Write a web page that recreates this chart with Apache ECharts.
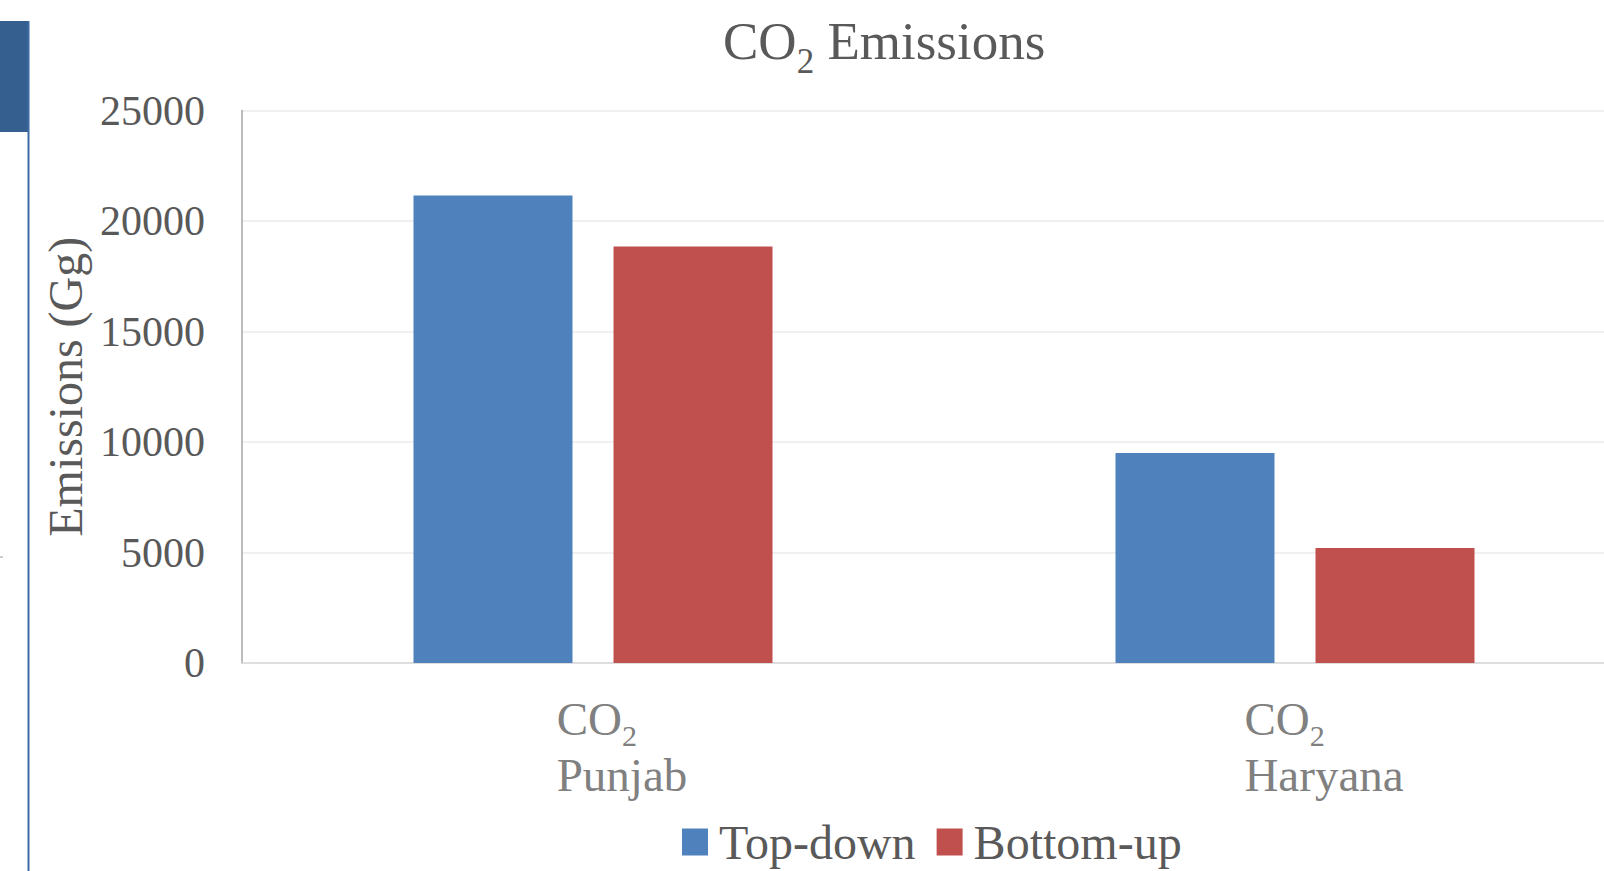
<!DOCTYPE html>
<html>
<head>
<meta charset="utf-8">
<script src="https://cdn.jsdelivr.net/npm/echarts@6/dist/echarts.min.js"></script>
<style>
  html, body { margin: 0; padding: 0; background: #fff; }
  #chart { width: 1604px; height: 871px; }
</style>
</head>
<body>
<div id="chart"></div>
<script>
var gas = 'CO';
var regions = ['Punjab', 'Haryana'];
var seriesNames = ['Top-down', 'Bottom-up'];
var topDown = [21150, 9500];
var bottomUp = [18850, 5200];
var yTicks = [0, 5000, 10000, 15000, 20000, 25000];

(function() {
  var ink = '#595959';
  var soft = '#808080';
  var blue = '#4F81BD';
  var red = '#C0504D';
  var font = '"Liberation Serif", "DejaVu Serif", serif';

  var chart = echarts.init(document.getElementById('chart'), null, { renderer: 'svg' });

  chart.setOption({
    animation: false,
    title: {
      text: '{a|' + gas + '}{s|2}{a| Emissions}',
      left: 723,
      top: 12,
      padding: 0,
      textStyle: {
        fontWeight: 'normal',
        rich: {
          a: { fontFamily: font, fontSize: 53, fontWeight: 'normal', color: ink, lineHeight: 58 },
          // lowered subscript: top aligned with padding pushes it below the baseline
          s: { fontFamily: font, fontSize: 35, fontWeight: 'normal', color: ink, lineHeight: 10, verticalAlign: 'top', padding: [32, 0, 0, 0] }
        }
      }
    },
    legend: {
      data: seriesNames,
      left: 677,
      top: 813,
      itemWidth: 26,
      itemHeight: 27,
      itemGap: 21,
      icon: 'rect',
      textStyle: { fontFamily: font, fontSize: 48, color: ink, lineHeight: 48, padding: [0, 0, 0, 6] }
    },
    // the plot runs past the right edge of the page, as in the source
    grid: { left: 242, width: 1404, top: 110.5, bottom: 208, outerBoundsMode: 'none' },
    xAxis: {
      type: 'category',
      data: regions,
      axisTick: { show: false },
      axisLine: { lineStyle: { color: '#d9d9d9', width: 1.5 } },
      axisLabel: {
        margin: 28,
        padding: [0, 0, 0, 58],
        formatter: function(v) {
          return '{a|' + gas + '}{s|2}\n{a|' + v + '}';
        },
        rich: {
          a: { fontFamily: font, fontSize: 47, color: soft, lineHeight: 56, align: 'left' },
          s: { fontFamily: font, fontSize: 30, color: soft, lineHeight: 10, align: 'left', verticalAlign: 'top', padding: [29, 0, 0, 0] }
        }
      }
    },
    yAxis: {
      type: 'value',
      min: yTicks[0],
      max: yTicks[yTicks.length - 1],
      interval: yTicks[1] - yTicks[0],
      name: 'Emissions (Gg)',
      nameLocation: 'middle',
      nameGap: 126,
      nameTextStyle: { fontFamily: font, fontSize: 48, color: ink },
      axisLine: { show: true, lineStyle: { color: '#a6a6a6', width: 1.5 } },
      axisTick: { show: false },
      axisLabel: {
        margin: 37,
        fontFamily: font,
        fontSize: 42,
        color: ink,
        formatter: function(v) { return String(v); }
      },
      splitLine: { lineStyle: { color: '#ebebeb', width: 1.5 } }
    },
    series: [
      { name: seriesNames[0], type: 'bar', data: topDown, barWidth: 159, barGap: '25.8%', itemStyle: { color: blue } },
      { name: seriesNames[1], type: 'bar', data: bottomUp, barWidth: 159, barGap: '25.8%', itemStyle: { color: red } }
    ],
    graphic: [
      { type: 'rect', left: 0, top: 21, shape: { width: 28, height: 111 }, style: { fill: '#345F8F' } },
      { type: 'line', shape: { x1: 28.5, y1: 21, x2: 28.5, y2: 871 }, style: { stroke: '#3D6BA6', lineWidth: 2 } },
      { type: 'line', shape: { x1: 0, y1: 557, x2: 3, y2: 557 }, style: { stroke: '#9a9a9a', lineWidth: 1 } }
    ]
  });

  window.addEventListener('resize', function() { chart.resize(); });
})();
</script>
</body>
</html>
